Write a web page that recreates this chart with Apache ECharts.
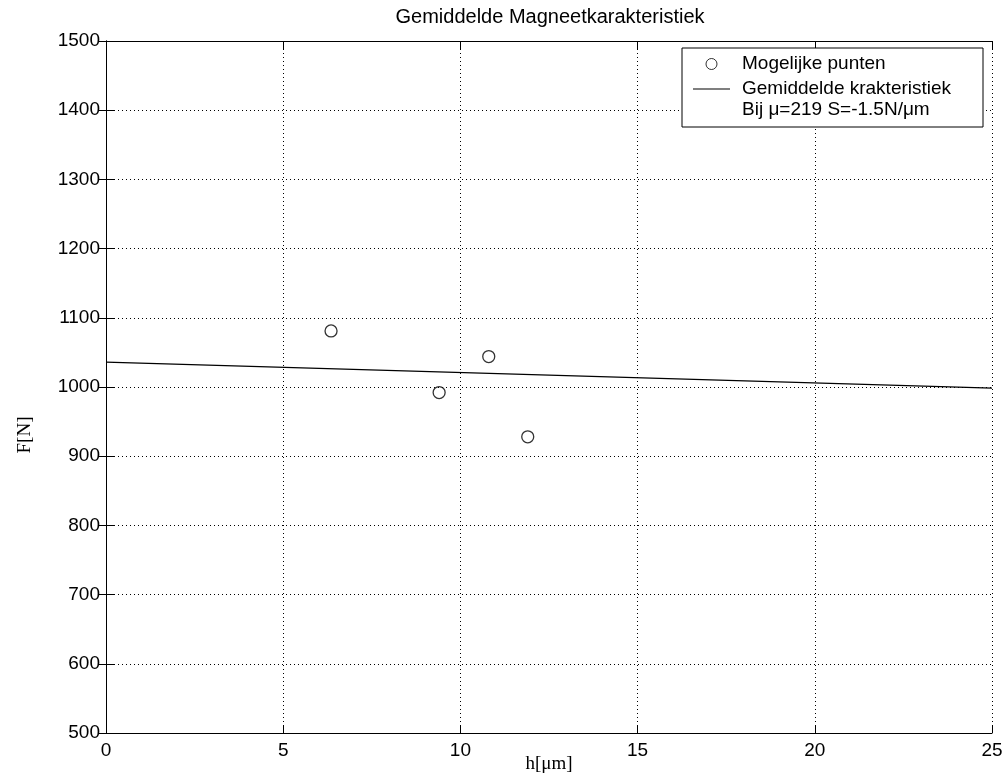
<!DOCTYPE html>
<html>
<head>
<meta charset="utf-8">
<script src="https://cdn.jsdelivr.net/npm/echarts@6/dist/echarts.min.js"></script>
<style>
  html, body { margin: 0; padding: 0; background: #fff; }
  #chart { width: 1005px; height: 778px; }
</style>
</head>
<body>
<div id="chart"></div>
<script>
// Measured operating points (h in µm, F in N)
const pointH = [6.35, 9.4, 10.8, 11.9];
const pointF = [1081, 992, 1044, 928];

// Mean characteristic, straight line with S = -1.5 N/µm
const lineH = [0, 25];
const lineF = [1036, 998.5];

// Axis ranges and tick steps
const xRange = [0, 25];
const xStep = 5;
const yRange = [500, 1500];
const yStep = 100;

const titleText = 'Gemiddelde Magneetkarakteristiek';
const seriesNames = ['Mogelijke punten', 'Gemiddelde krakteristiek'];
const noteText = 'Bij \u03bc=219 S=-1.5N/\u03bcm';

const sans = 'Arial, "Liberation Sans", sans-serif';
const serif = '"Times New Roman", "Liberation Serif", serif';

const chart = echarts.init(document.getElementById('chart'), null, { renderer: 'canvas' });

const gridLine = { show: true, lineStyle: { color: '#000', width: 1, type: [1, 3] } };
const frameLine = { show: true, lineStyle: { color: '#000', width: 1 } };
const inTick = { show: true, inside: true, length: 8, lineStyle: { color: '#000', width: 1 } };
const plainNumber = v => String(v);

chart.setOption({
  animation: false,
  backgroundColor: '#fff',
  title: {
    text: titleText,
    left: 545,
    textAlign: 'center',
    top: 2,
    textStyle: { fontFamily: sans, fontSize: 20, fontWeight: 'normal', color: '#000' }
  },
  grid: { left: 106, right: 13, top: 41, bottom: 45, containLabel: false, outerBoundsMode: 'none' },
  xAxis: [
    {
      type: 'value', min: xRange[0], max: xRange[1], interval: xStep,
      axisLine: frameLine, axisTick: inTick, splitLine: gridLine,
      axisLabel: { fontFamily: sans, fontSize: 19, color: '#000', margin: 8, formatter: plainNumber },
      name: 'h[\u03bcm]', nameLocation: 'middle', nameGap: 22, nameMoveOverlap: false,
      nameTextStyle: { fontFamily: serif, fontSize: 19, color: '#000' }
    },
    {
      type: 'value', position: 'top', min: xRange[0], max: xRange[1], interval: xStep,
      axisLine: frameLine, axisTick: inTick, splitLine: { show: false },
      axisLabel: { show: false }
    }
  ],
  yAxis: [
    {
      type: 'value', min: yRange[0], max: yRange[1], interval: yStep,
      axisLine: frameLine, axisTick: inTick, splitLine: gridLine,
      axisLabel: { fontFamily: sans, fontSize: 19, color: '#000', margin: 6, formatter: plainNumber }
    },
    {
      type: 'value', position: 'right', min: yRange[0], max: yRange[1], interval: yStep,
      axisLine: frameLine, axisTick: inTick, splitLine: { show: false },
      axisLabel: { show: false }
    }
  ],
  legend: {
    orient: 'vertical',
    left: 693,
    top: 54,
    padding: 0,
    itemWidth: 37,
    itemHeight: 11,
    itemGap: 5,
    z: 60,
    textStyle: { fontFamily: sans, fontSize: 19, color: '#000', lineHeight: 20, padding: [0, 0, 0, 7] },
    data: [
      { name: seriesNames[0], icon: 'circle', itemStyle: { color: 'transparent', borderColor: '#000', borderWidth: 1 } },
      { name: seriesNames[1], icon: 'path://M0,0H40V1H0Z', itemStyle: { color: '#000', borderWidth: 0 } }
    ]
  },
  graphic: {
    elements: [
      {
        type: 'rect', z: 50,
        shape: { x: 682, y: 48, width: 301, height: 79 },
        style: { fill: '#fff', stroke: '#000', lineWidth: 1 }
      },
      {
        type: 'text', z: 55, x: 742, y: 110,
        style: { text: noteText, font: '19px ' + sans, fill: '#000', verticalAlign: 'middle' }
      },
      {
        type: 'text', z: 55, x: 25, y: 435, rotation: Math.PI / 2,
        style: { text: 'F[N]', font: '19px ' + serif, fill: '#000', align: 'center', verticalAlign: 'middle' }
      }
    ]
  },
  series: [
    {
      name: seriesNames[0],
      type: 'scatter',
      symbol: 'circle',
      symbolSize: 12,
      itemStyle: { color: 'transparent', borderColor: '#000', borderWidth: 1.3 },
      data: pointH.map((h, i) => [h, pointF[i]]),
      z: 5
    },
    {
      name: seriesNames[1],
      type: 'line',
      symbol: 'none',
      lineStyle: { color: '#000', width: 1.3 },
      data: lineH.map((h, i) => [h, lineF[i]]),
      z: 4
    }
  ]
});
</script>
</body>
</html>
